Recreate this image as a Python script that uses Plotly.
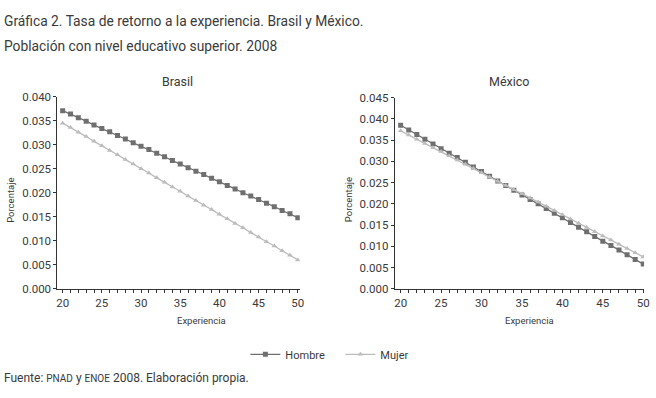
import plotly.graph_objects as go

experiencia = list(range(20, 51))

brasil_hombre = [0.0371, 0.0364, 0.0356, 0.0349, 0.0341, 0.0334, 0.0327, 0.0319, 0.0312, 0.0304,
                 0.0297, 0.0290, 0.0282, 0.0275, 0.0267, 0.0260, 0.0252, 0.0245, 0.0238, 0.0230,
                 0.0223, 0.0215, 0.0208, 0.0200, 0.0193, 0.0186, 0.0178, 0.0171, 0.0163, 0.0156,
                 0.0148]
brasil_mujer = [0.0345, 0.0336, 0.0326, 0.0317, 0.0307, 0.0298, 0.0288, 0.0279, 0.0269, 0.0260,
                0.0250, 0.0241, 0.0231, 0.0222, 0.0212, 0.0203, 0.0193, 0.0184, 0.0174, 0.0165,
                0.0155, 0.0146, 0.0136, 0.0127, 0.0117, 0.0108, 0.0098, 0.0089, 0.0079, 0.0070,
                0.0060]
mexico_hombre = [0.0385, 0.0374, 0.0363, 0.0352, 0.0341, 0.0330, 0.0319, 0.0309, 0.0298, 0.0287,
                 0.0276, 0.0265, 0.0254, 0.0243, 0.0232, 0.0221, 0.0210, 0.0200, 0.0189, 0.0178,
                 0.0167, 0.0156, 0.0145, 0.0134, 0.0123, 0.0112, 0.0102, 0.0091, 0.0080, 0.0069,
                 0.0058]
mexico_mujer = [0.0372, 0.0362, 0.0352, 0.0342, 0.0332, 0.0323, 0.0313, 0.0303, 0.0293, 0.0283,
                0.0273, 0.0263, 0.0253, 0.0243, 0.0233, 0.0224, 0.0214, 0.0204, 0.0194, 0.0184,
                0.0174, 0.0164, 0.0154, 0.0144, 0.0134, 0.0124, 0.0115, 0.0105, 0.0095, 0.0085,
                0.0075]

x_ticks = [20, 25, 30, 35, 40, 45, 50]
brasil_yticks = [0.000, 0.005, 0.010, 0.015, 0.020, 0.025, 0.030, 0.035, 0.040]
mexico_yticks = [0.000, 0.005, 0.010, 0.015, 0.020, 0.025, 0.030, 0.035, 0.040, 0.045]

FONT = "Roboto, Liberation Sans Narrow, sans-serif"
TXT = "#3a3a3a"
C_H = "#6f6f6f"
C_M = "#bcbcbc"

fig = go.Figure()

def add(x, y, name, color, symbol, xa, ya, show):
    fig.add_trace(go.Scatter(
        x=x, y=y, name=name, mode="lines+markers",
        line=dict(color=color, width=1.3),
        marker=dict(symbol=symbol, size=5, color=color),
        xaxis=xa, yaxis=ya, showlegend=show, legendgroup=name))

add(experiencia, brasil_hombre, "Hombre", C_H, "square", "x", "y", True)
add(experiencia, brasil_mujer, "Mujer", C_M, "triangle-up", "x", "y", True)
add(experiencia, mexico_hombre, "Hombre", C_H, "square", "x2", "y2", False)
add(experiencia, mexico_mujer, "Mujer", C_M, "triangle-up", "x2", "y2", False)

W, H = 656, 398

def px_x(p):
    return p / W

def px_y(p):
    return (H - p) / H

axis_common = dict(showline=True, linecolor="#333", linewidth=1, showgrid=False, zeroline=False,
                   ticks="outside", ticklen=3, tickcolor="#333",
                   tickfont=dict(family=FONT, size=11.5, color=TXT))

xcommon = dict(axis_common, tickvals=x_ticks, ticktext=[str(v) for v in x_ticks],
               minor=dict(dtick=1, tick0=20, ticks="outside", ticklen=3, tickcolor="#333"))

fig.update_layout(
    width=W, height=H,
    margin=dict(l=0, r=0, t=0, b=0),
    paper_bgcolor="white", plot_bgcolor="white",
    font=dict(family=FONT, color=TXT),
    xaxis=dict(xcommon, domain=[px_x(57), px_x(302)], range=[19.33, 50.25], anchor="y"),
    yaxis=dict(axis_common, domain=[px_y(292), px_y(93)], range=[0, 0.040],
               tickvals=brasil_yticks, ticktext=["%.3f" % v for v in brasil_yticks], anchor="x"),
    xaxis2=dict(xcommon, domain=[px_x(398), px_x(650)], range=[19.27, 50.1], anchor="y2"),
    yaxis2=dict(axis_common, domain=[px_y(292), px_y(94)], range=[0, 0.045],
                tickvals=mexico_yticks, ticktext=["%.3f" % v for v in mexico_yticks], anchor="x2"),
    legend=dict(orientation="h", x=px_x(247), y=px_y(345), xanchor="left", yanchor="top",
                font=dict(family=FONT, size=11, color=TXT), itemwidth=30,
                entrywidth=50, entrywidthmode="pixels",
                bgcolor="rgba(0,0,0,0)"),
)

def ann(text, x, y, size, xanchor="center", yanchor="middle", angle=0):
    fig.add_annotation(text=text, x=px_x(x), y=px_y(y), xref="paper", yref="paper",
                       showarrow=False, xanchor=xanchor, yanchor=yanchor, textangle=angle,
                       font=dict(family=FONT, size=size, color=TXT))

ann("Gráfica 2. Tasa de retorno a la experiencia. Brasil y México.", 1, 15, 13.8, xanchor="left")
ann("Población con nivel educativo superior. 2008", 1, 40, 13.8, xanchor="left")
ann("Brasil", 178, 77, 12.5)
ann("México", 513, 77, 12.5)
ann("Porcentaje", 10, 200, 9.5, angle=-90)
ann("Porcentaje", 352, 200, 9.5, angle=-90)
ann("Experiencia", 203, 325, 9.5)
ann("Experiencia", 534, 325, 9.5)
ann("Fuente: <span style='font-size:10px'>PNAD</span> y <span style='font-size:10px'>ENOE</span> 2008. Elaboración propia.",
    1, 385, 12, xanchor="left")

fig.write_html("out.html", config={"displayModeBar": False},
               post_script="document.body.style.margin='0';")
